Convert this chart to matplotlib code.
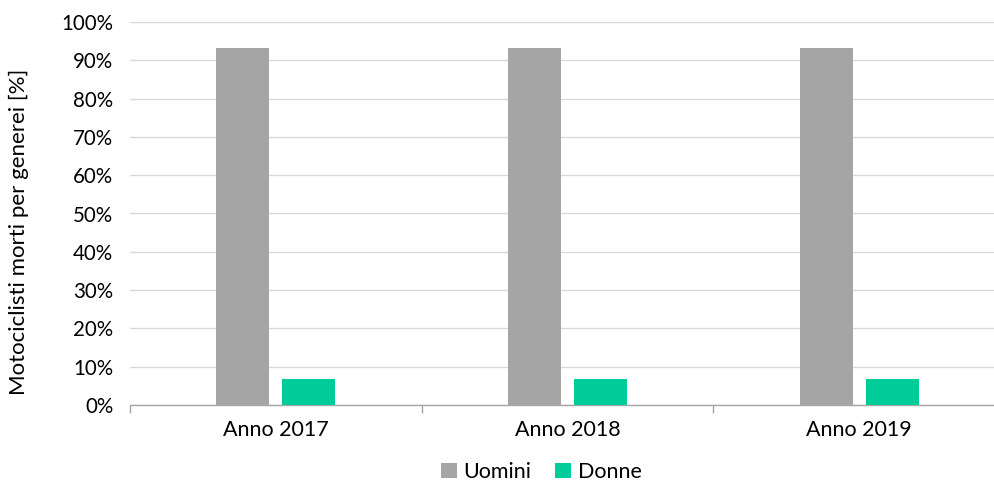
import matplotlib
matplotlib.use("Agg")
import matplotlib.pyplot as plt
import numpy as np
from matplotlib.ticker import FixedLocator, FuncFormatter

plt.rcParams['font.family'] = ['Lato', 'DejaVu Sans']

categories = ["Anno 2017", "Anno 2018", "Anno 2019"]
uomini = [93.3, 93.3, 93.3]
donne = [6.7, 6.7, 6.7]
y_ticks = [0, 10, 20, 30, 40, 50, 60, 70, 80, 90, 100]

fig = plt.figure(figsize=(9.94, 4.86), dpi=100)
W, H = 994, 486
left, right, bottom, top = 130, 1005, 405, 22
ax = fig.add_axes([left / W, 1 - bottom / H, (right - left) / W, (bottom - top) / H])

x = np.arange(len(categories))
bw = 0.182
off = 0.113
b1 = ax.bar(x - off, uomini, bw, color="#A5A5A5", label="Uomini", zorder=3)
b2 = ax.bar(x + off, donne, bw, color="#00CC99", label="Donne", zorder=3)

ax.set_xlim(-0.5, len(categories) - 0.5)
ax.set_ylim(0, 100)
ax.set_yticks(y_ticks)
ax.yaxis.set_major_formatter(FuncFormatter(lambda v, p: f"{int(v)}%"))
ax.grid(axis="y", color="#D9D9D9", linewidth=1, zorder=0)
ax.set_axisbelow(True)

ax.set_xticks(x)
ax.set_xticklabels(categories)
ax.xaxis.set_minor_locator(FixedLocator(np.arange(-0.5, len(categories), 1.0)))
ax.tick_params(axis="x", which="major", length=0, pad=11, labelsize=15.5)
ax.tick_params(axis="x", which="minor", length=6, color="#A5A5A5", width=1)
ax.tick_params(axis="y", length=0, pad=12, labelsize=14.8)

for s in ["top", "right", "left"]:
    ax.spines[s].set_visible(False)
ax.spines["bottom"].set_color("#A5A5A5")
ax.spines["bottom"].set_linewidth(1)

fig.text(19 / W, 1 - 232 / H, "Motociclisti morti per generei [%]", rotation=90,
         ha="center", va="center", fontsize=16)

fig.legend(handles=[b1, b2], labels=["Uomini", "Donne"], loc="center",
           bbox_to_anchor=(541 / W, 1 - 472 / H), ncol=2, frameon=False,
           fontsize=15.5, handlelength=0.75, handleheight=0.75, handletextpad=0.3,
           columnspacing=1.1, borderpad=0)

fig.savefig("out.png", dpi=100)
